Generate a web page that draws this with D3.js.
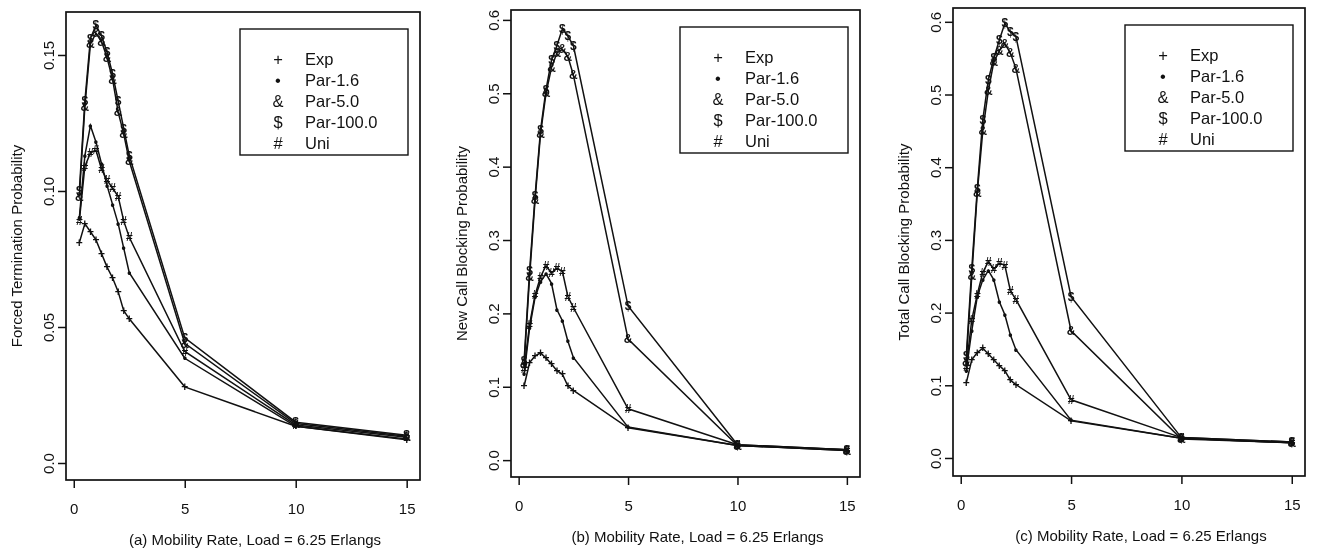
<!DOCTYPE html>
<html>
<head>
<meta charset="utf-8">
<script src="https://cdn.jsdelivr.net/npm/d3@7"></script>
<style>
  html, body { margin: 0; padding: 0; background: #fff; }
  body { filter: grayscale(100%); }
  svg { display: block; font-family: "Liberation Sans", Arial, sans-serif; }
  .axis text { font-size: 15px; fill: #111; }
  .axis line { stroke: #111; stroke-width: 1.5; }
  .frame { fill: none; stroke: #111; stroke-width: 1.7; }
  .series { fill: none; stroke: #111; stroke-width: 1.5; }
  .marker { font-size: 12px; font-weight: bold; fill: #111; text-anchor: middle; }
  .legend-box { fill: none; stroke: #111; stroke-width: 1.4; }
  .legend text { font-size: 16.5px; fill: #111; }
  .title { font-size: 15px; fill: #111; text-anchor: middle; }
</style>
</head>
<body>
<div id="chart"></div>
<script>
// Data
var mobility = [0.25, 0.5, 0.75, 1, 1.25, 1.5, 1.75, 2, 2.25, 2.5, 5, 10, 15];
var seriesNames = ["Exp", "Par-1.6", "Par-5.0", "Par-100.0", "Uni"];
var seriesSymbols = ["+", "\u2022", "&", "$", "#"];
var xTicks = [0, 5, 10, 15];

// (a) forced termination
var forcedExp = [0.081, 0.088, 0.085, 0.082, 0.077, 0.072, 0.068, 0.063, 0.056, 0.053, 0.028, 0.0135, 0.0085];
var forcedPar16 = [0.090, 0.113, 0.124, 0.118, 0.110, 0.102, 0.095, 0.088, 0.079, 0.070, 0.0385, 0.0135, 0.0088];
var forcedPar5 = [0.098, 0.131, 0.154, 0.158, 0.155, 0.149, 0.141, 0.129, 0.121, 0.111, 0.044, 0.0145, 0.0098];
var forcedPar100 = [0.100, 0.133, 0.156, 0.161, 0.157, 0.151, 0.143, 0.133, 0.123, 0.113, 0.046, 0.0150, 0.0102];
var forcedUni = [0.089, 0.109, 0.114, 0.115, 0.108, 0.104, 0.101, 0.098, 0.089, 0.083, 0.041, 0.0140, 0.0095];
var forcedTicks = [0, 0.05, 0.10, 0.15];
var forcedTickLabels = ["0.0", "0.05", "0.10", "0.15"];

// (b) new call blocking
var newExp = [0.101, 0.133, 0.142, 0.146, 0.139, 0.131, 0.122, 0.117, 0.101, 0.095, 0.044, 0.020, 0.013];
var newPar16 = [0.118, 0.180, 0.222, 0.243, 0.254, 0.241, 0.205, 0.190, 0.162, 0.140, 0.045, 0.020, 0.014];
var newPar5 = [0.131, 0.250, 0.355, 0.445, 0.500, 0.535, 0.555, 0.560, 0.550, 0.525, 0.165, 0.020, 0.013];
var newPar100 = [0.136, 0.258, 0.360, 0.450, 0.505, 0.545, 0.565, 0.588, 0.578, 0.565, 0.210, 0.021, 0.014];
var newUni = [0.125, 0.185, 0.225, 0.250, 0.265, 0.255, 0.262, 0.257, 0.223, 0.208, 0.070, 0.021, 0.014];

// (c) total call blocking
var totalExp = [0.103, 0.135, 0.145, 0.151, 0.143, 0.135, 0.127, 0.120, 0.107, 0.101, 0.051, 0.027, 0.021];
var totalPar16 = [0.120, 0.175, 0.222, 0.245, 0.258, 0.245, 0.215, 0.197, 0.169, 0.149, 0.052, 0.027, 0.021];
var totalPar5 = [0.132, 0.250, 0.365, 0.450, 0.505, 0.545, 0.560, 0.570, 0.557, 0.536, 0.175, 0.026, 0.021];
var totalPar100 = [0.140, 0.260, 0.370, 0.465, 0.520, 0.550, 0.575, 0.598, 0.586, 0.580, 0.222, 0.028, 0.022];
var totalUni = [0.125, 0.190, 0.225, 0.255, 0.270, 0.260, 0.268, 0.265, 0.230, 0.218, 0.080, 0.028, 0.022];

var blockTicks = [0, 0.1, 0.2, 0.3, 0.4, 0.5, 0.6];
var blockTickLabels = ["0.0", "0.1", "0.2", "0.3", "0.4", "0.5", "0.6"];

var width = 1318;
var height = 559;

var svg = d3.select("#chart")
  .append("svg")
  .attr("width", width)
  .attr("height", height);

// Render one panel
var renderPanel = function(config) {
  var box = config.box;
  var chartWidth = box.right - box.left;
  var chartHeight = box.bottom - box.top;

  var xScale = d3.scaleLinear()
    .domain([-0.35, 15.6])
    .range([0, chartWidth]);

  var yScale = d3.scaleLinear()
    .domain(config.yDomain)
    .range([chartHeight, 0]);

  var chartElement = svg.append("g")
    .attr("transform", `translate(${box.left},${box.top})`);

  // axes
  var xAxis = d3.axisBottom(xScale)
    .tickValues(xTicks)
    .tickSize(8)
    .tickPadding(15)
    .tickFormat(d => d);

  chartElement.append("g")
    .attr("class", "x axis")
    .attr("transform", `translate(0,${chartHeight})`)
    .call(xAxis)
    .call(g => g.select(".domain").remove());

  var yAxis = d3.axisLeft(yScale)
    .tickValues(config.yTicks)
    .tickSize(8)
    .tickFormat((d, i) => config.yTickLabels[i]);

  chartElement.append("g")
    .attr("class", "y axis")
    .call(yAxis)
    .call(g => g.select(".domain").remove())
    .selectAll("text")
    .attr("transform", "rotate(-90)")
    .attr("x", 0)
    .attr("y", -12)
    .attr("dy", 0)
    .attr("text-anchor", "middle");

  chartElement.append("rect")
    .attr("class", "frame")
    .attr("width", chartWidth)
    .attr("height", chartHeight);

  // lines + symbols
  var line = d3.line()
    .x((d, i) => xScale(mobility[i]))
    .y(d => yScale(d));

  config.series.forEach(function(values, s) {
    chartElement.append("path")
      .attr("class", "series")
      .attr("d", line(values));

    chartElement.append("g")
      .selectAll("text")
      .data(values)
      .enter()
      .append("text")
      .attr("class", "marker")
      .attr("x", (d, i) => xScale(mobility[i]))
      .attr("y", d => yScale(d))
      .attr("dy", "0.35em")
      .text(seriesSymbols[s]);
  });

  // legend
  var legend = chartElement.append("g")
    .attr("class", "legend")
    .attr("transform", `translate(${chartWidth - 180},17)`);
  legend.append("rect")
    .attr("class", "legend-box")
    .attr("width", 168)
    .attr("height", 126);
  seriesNames.forEach(function(name, i) {
    legend.append("text")
      .attr("x", 38)
      .attr("y", 30 + i * 21)
      .attr("dy", "0.35em")
      .attr("text-anchor", "middle")
      .text(seriesSymbols[i]);
    legend.append("text")
      .attr("x", 65)
      .attr("y", 30 + i * 21)
      .attr("dy", "0.35em")
      .text(name);
  });

  // titles
  chartElement.append("text")
    .attr("class", "title")
    .attr("transform", `translate(-44,${chartHeight / 2}) rotate(-90)`)
    .text(config.yTitle);

  chartElement.append("text")
    .attr("class", "title")
    .attr("x", chartWidth / 2 + 12)
    .attr("y", chartHeight + 65)
    .text(config.caption);
};

renderPanel({
  box: { left: 66, top: 12, right: 420, bottom: 480 },
  yDomain: [-0.00625, 0.1658],
  yTicks: forcedTicks,
  yTickLabels: forcedTickLabels,
  series: [forcedExp, forcedPar16, forcedPar5, forcedPar100, forcedUni],
  yTitle: "Forced Termination Probability",
  caption: "(a) Mobility Rate, Load = 6.25 Erlangs"
});

renderPanel({
  box: { left: 511, top: 10, right: 860, bottom: 477 },
  yDomain: [-0.023, 0.6135],
  yTicks: blockTicks,
  yTickLabels: blockTickLabels,
  series: [newExp, newPar16, newPar5, newPar100, newUni],
  yTitle: "New Call Blocking Probability",
  caption: "(b) Mobility Rate, Load = 6.25 Erlangs"
});

renderPanel({
  box: { left: 953, top: 8, right: 1305, bottom: 476 },
  yDomain: [-0.0248, 0.619],
  yTicks: blockTicks,
  yTickLabels: blockTickLabels,
  series: [totalExp, totalPar16, totalPar5, totalPar100, totalUni],
  yTitle: "Total Call Blocking Probability",
  caption: "(c) Mobility Rate, Load = 6.25 Erlangs"
});
</script>
</body>
</html>
